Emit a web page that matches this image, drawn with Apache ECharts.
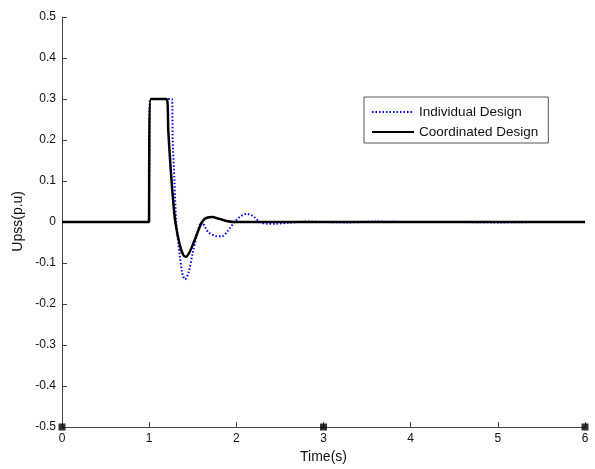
<!DOCTYPE html>
<html><head><meta charset="utf-8">
<script src="https://cdn.jsdelivr.net/npm/echarts@6/dist/echarts.min.js"></script>
<style>html,body{margin:0;padding:0;background:#fff}#c{width:595px;height:469px}</style>
</head><body><div id="c"></div>
<script>
// Time (s) and values for each design
const tIndividual = [0, 0.99, 1.0, 1.01, 1.26, 1.27, 1.29, 1.31, 1.35, 1.38, 1.41, 1.45, 1.5, 1.55, 1.6, 1.68, 1.76, 1.835, 1.9, 1.98, 2.05, 2.12, 2.2, 2.27, 2.35, 2.45, 2.6, 2.8, 3.0, 3.3, 3.6, 4.0, 4.5, 5.0, 5.5, 6.0];
const vIndividual = [0, 0, 0.1, 0.3, 0.3, 0.2, 0.1, 0.0, -0.08, -0.125, -0.14, -0.125, -0.075, -0.03, 0.0, -0.025, -0.034, -0.035, -0.022, 0.0, 0.014, 0.02, 0.013, 0.0, -0.004, -0.004, -0.002, 0.001, 0.0, -0.001, 0.001, 0.0, 0.0, -0.001, 0.0, 0.0];
const tCoordinated = [0, 0.999, 1.0, 1.02, 1.2, 1.22, 1.25, 1.28, 1.3, 1.35, 1.39, 1.42, 1.46, 1.52, 1.58, 1.62, 1.67, 1.72, 1.8, 1.9, 2.0, 2.5, 3.0, 4.0, 5.0, 6.0];
const vCoordinated = [0, 0, 0.12, 0.3, 0.3, 0.22, 0.12, 0.04, 0.0, -0.055, -0.08, -0.085, -0.075, -0.045, -0.012, 0.004, 0.011, 0.012, 0.008, 0.002, 0.0, 0.0, 0.0, 0.0, 0.0, 0.0];
const markerT = [0, 3, 6];
const markerV = [-0.5, -0.5, -0.5];
const xTicks = [0, 1, 2, 3, 4, 5, 6];
const yTicks = [-0.5, -0.4, -0.3, -0.2, -0.1, 0, 0.1, 0.2, 0.3, 0.4, 0.5];

const zip = (a, b) => a.map((x, i) => [x, b[i]]);
const font = 'Liberation Sans, Arial, sans-serif';
const chart = echarts.init(document.getElementById('c'), null, {renderer: 'canvas'});
chart.setOption({
  animation: false,
  backgroundColor: '#fff',
  grid: {left: 62, right: 10, top: 17, bottom: 42},
  legend: {
    left: 364, top: 97, orient: 'vertical',
    data: ['Individual Design', 'Coordinated Design'],
    itemWidth: 42, itemHeight: 14, itemGap: 6,
    padding: [8, 10, 4, 7],
    itemStyle: {opacity: 0, borderWidth: 0},
    borderColor: '#555', borderWidth: 1, backgroundColor: '#fff',
    textStyle: {fontFamily: font, fontSize: 13.5, color: '#111'}
  },
  graphic: [{
    type: 'text', left: 11, top: 191, rotation: Math.PI / 2,
    style: {text: 'Upss(p.u)', font: '14px Liberation Sans, Arial, sans-serif', fill: '#111'}
  }],
  xAxis: {
    type: 'value', min: xTicks[0], max: xTicks[xTicks.length - 1], interval: 1,
    name: 'Time(s)', nameLocation: 'middle', nameGap: 23,
    nameTextStyle: {fontFamily: font, fontSize: 14, color: '#111'},
    axisLine: {onZero: false, lineStyle: {color: '#444', width: 1}},
    axisTick: {inside: true, length: 5, lineStyle: {color: '#444'}},
    axisLabel: {fontFamily: font, fontSize: 12, color: '#111', margin: 6},
    splitLine: {show: false}
  },
  yAxis: {
    type: 'value', min: yTicks[0], max: yTicks[yTicks.length - 1], interval: 0.1,
    axisLine: {show: true, onZero: false, lineStyle: {color: '#444', width: 1}},
    axisTick: {show: true, inside: true, length: 5, lineStyle: {color: '#444'}},
    axisLabel: {fontFamily: font, fontSize: 12, color: '#111', margin: 6,
      formatter: v => String(Math.round(v * 10) / 10)},
    splitLine: {show: false}
  },
  series: [
    {name: 'Individual Design', type: 'line', data: zip(tIndividual, vIndividual),
     symbol: 'none', smooth: 0.3, color: '#0000ff',
     lineStyle: {color: '#0000ff', width: 2, type: [1.5, 2]}, z: 2},
    {name: 'Coordinated Design', type: 'line', data: zip(tCoordinated, vCoordinated),
     symbol: 'none', smooth: 0.3, color: '#000',
     lineStyle: {color: '#000', width: 2.5, type: 'solid'}, z: 3},
    {name: 'markers', type: 'scatter', data: zip(markerT, markerV), symbol: 'rect',
     symbolSize: 7, itemStyle: {color: '#000'}, z: 5}
  ]
});
</script></body></html>
